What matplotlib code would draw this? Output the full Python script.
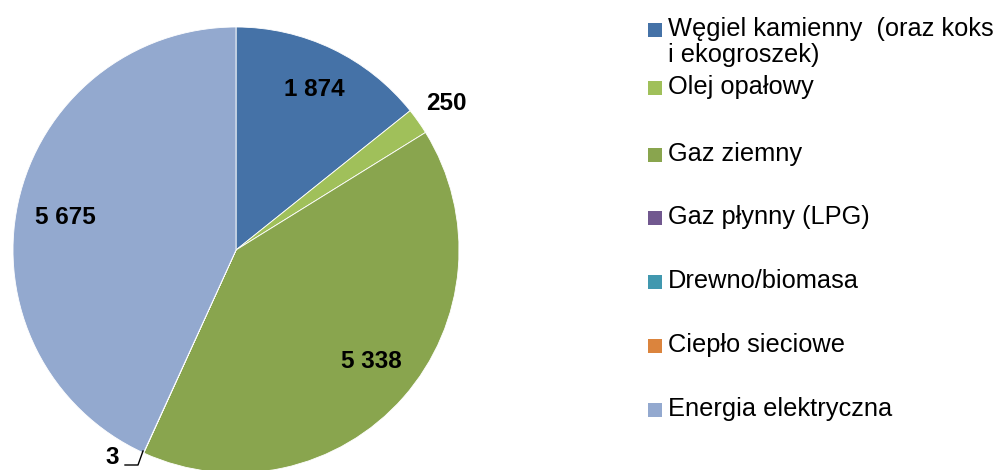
import matplotlib.pyplot as plt
from matplotlib.patches import Rectangle

plt.rcParams['font.family'] = ['Liberation Sans', 'DejaVu Sans']

categories = ['Węgiel kamienny  (oraz koks\ni ekogroszek)', 'Olej opałowy', 'Gaz ziemny',
              'Gaz płynny (LPG)', 'Drewno/biomasa', 'Ciepło sieciowe', 'Energia elektryczna']
values = [1874, 250, 5338, 3, 0, 0, 5675]
colors = ['#4572A7', '#A0C05A', '#89A54E', '#71588F', '#4198AF', '#DB843D', '#93A9CF']

W, H = 1004, 470
fig = plt.figure(figsize=(W / 100, H / 100), dpi=100)

# pie axes placed in pixel terms: centre (236, 250), radius 223
cx, cy, r = 236, 250, 223
ax = fig.add_axes([(cx - r) / W, (H - cy - r) / H, 2 * r / W, 2 * r / H])
wedges, _ = ax.pie(values, colors=colors, startangle=90, counterclock=False,
                   radius=1.0, wedgeprops=dict(edgecolor='white', linewidth=0.6))
ax.set_xlim(-1, 1)
ax.set_ylim(-1, 1)
ax.set_aspect('equal')
ax.axis('off')


def px(x, y):
    return x / W, 1 - y / H


def fmt(v):
    return f'{v:,}'.replace(',', ' ')


# value labels (pixel positions of text centres)
label_pos = {0: (314, 89), 1: (446, 104), 2: (371, 362), 3: (112, 457), 6: (65, 217)}
for i, (x, y) in label_pos.items():
    fig.text(*px(x, y), fmt(values[i]), ha='center', va='center',
             fontsize=17.5, fontweight='bold', color='black')

# leader line for the tiny slice
fig.add_artist(plt.Line2D([143 / W, 138 / W, 125 / W],
                          [1 - 451 / H, 1 - 465 / H, 1 - 465 / H],
                          color='black', linewidth=1.0))

# legend
rows_y = [30, 88, 155, 218, 282, 346, 410]
for name, col, y in zip(categories, colors, rows_y):
    fig.add_artist(Rectangle(px(648, y + 7), 14 / W, 14 / H, transform=fig.transFigure,
                             facecolor=col, edgecolor='none'))
    fig.text(*px(668, y - 13), name, ha='left', va='top', fontsize=18.3,
             color='black', linespacing=1.1)

fig.savefig('out.png', dpi=100)
